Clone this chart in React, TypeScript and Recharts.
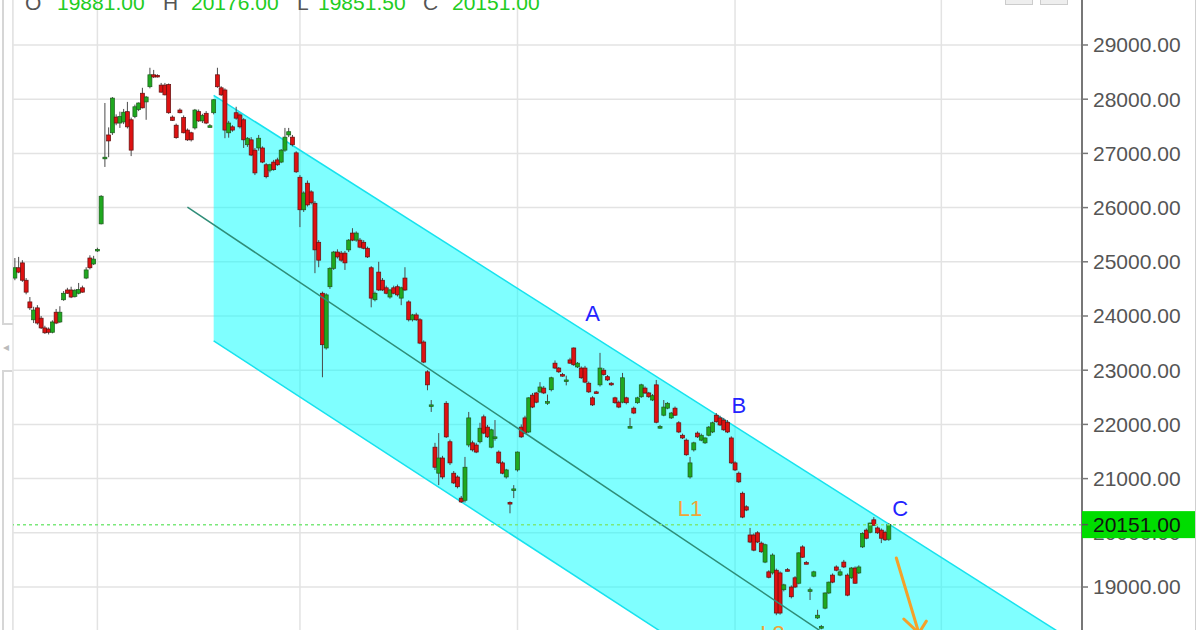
import React from 'react';
import {
  ComposedChart,
  Bar,
  Area,
  Line,
  XAxis,
  YAxis,
  CartesianGrid,
  ReferenceLine,
  ReferenceDot,
} from 'recharts';

// last session (header + price tag)
const lastBar = { open: 19881, high: 20176, low: 19851.5, close: 20151 };

// sessions as [open, high, low, close]
const legBase = [
  [24700, 25070, 24660, 24890], [24890, 25090, 24790, 24810], [24980, 25030, 24630, 24660],
  [24660, 24700, 24400, 24440], [24260, 24350, 24110, 24150], [23930, 24170, 23870, 24110],
  [24150, 24200, 23840, 23870], [23960, 24000, 23760, 23780], [23780, 23820, 23670, 23690],
  [23760, 23790, 23660, 23700], [23700, 23920, 23680, 23890], [24070, 24130, 23850, 23870],
  [23890, 24180, 23870, 24070], [24300, 24460, 24280, 24420], [24480, 24520, 24410, 24420],
  [24480, 24540, 24330, 24350], [24360, 24500, 24340, 24470], [24420, 24610, 24400, 24490],
  [24520, 24560, 24430, 24440], [24700, 24900, 24680, 24850], [25070, 25120, 24860, 24890],
  [24960, 25110, 24940, 25050], [25200, 25260, 25180, 25230],
];

const legTop = [
  [25700, 26230, 25690, 26210], [26900, 27930, 26750, 26930], [27340, 27480, 26930, 27230],
  [27380, 28040, 27340, 28020], [27670, 27720, 27520, 27560], [27560, 27770, 27470, 27680],
  [27580, 27820, 27540, 27760], [27770, 27950, 27460, 27490], [27620, 27660, 26950, 27060],
  [27680, 27900, 27650, 27860], [27810, 27940, 27780, 27930], [28110, 28210, 27830, 27840],
  [27950, 28060, 27620, 28040], [28230, 28580, 28200, 28450], [28450, 28540, 28390, 28410],
  [28440, 28460, 28400, 28410], [28260, 28300, 28120, 28130], [28260, 28300, 28070, 28080],
  [28270, 28290, 27730, 27750], [27670, 27700, 27600, 27610], [27520, 27550, 27270, 27290],
  [27800, 27830, 27740, 27750], [27660, 27700, 27370, 27380], [27430, 27460, 27230, 27250],
  [27380, 27400, 27220, 27250], [27470, 27820, 27440, 27800], [27770, 27810, 27580, 27600],
  [27600, 27730, 27560, 27700], [27740, 27780, 27540, 27560], [27500, 27540, 27480, 27510],
  [27750, 28000, 27720, 27990], [28450, 28580, 28210, 28230],
];

const legSlide = [
  [28210, 28240, 28060, 28080], [28170, 28200, 27280, 27430], [27380, 27600, 27290, 27560],
  [27490, 27520, 27400, 27430], [27750, 27860, 27620, 27650], [27710, 27740, 27460, 27490],
  [27620, 27650, 27100, 27250], [27160, 27300, 27120, 27280], [27250, 27300, 26950, 26970],
  [27060, 27100, 26600, 26640], [27100, 27340, 27050, 27280], [27100, 27130, 26820, 26840],
  [26790, 26820, 26540, 26570], [26690, 26810, 26650, 26790], [26840, 26880, 26680, 26700],
  [26880, 26920, 26770, 26790], [26840, 27080, 26820, 27060], [27060, 27470, 27030, 27300],
  [27340, 27470, 27300, 27400], [27300, 27340, 27130, 27160], [27010, 27040, 26640, 26660],
  [26560, 26600, 25640, 25960], [25960, 26300, 25920, 26270], [26450, 26500, 26020, 26050],
  [26290, 26320, 26060, 26090], [26080, 26120, 24790, 25220], [25360, 25400, 24900, 25030],
  [24420, 24450, 22870, 23470], [23410, 24420, 23380, 24390], [24540, 24900, 24500, 24880],
  [24880, 25200, 24850, 25180], [25180, 25230, 25060, 25090], [25160, 25200, 25000, 25030],
  [25160, 25200, 24850, 24980], [25220, 25420, 25180, 25400], [25530, 25620, 25380, 25400],
  [25400, 25560, 25370, 25530], [25400, 25440, 25250, 25270], [25360, 25400, 25230, 25250],
  [25250, 25280, 25070, 25090], [24890, 24920, 24160, 24330], [24300, 24450, 24270, 24420],
  [24810, 25000, 24460, 24480], [24660, 24700, 24460, 24480], [24520, 24560, 24400, 24420],
  [24350, 24500, 24320, 24480], [24520, 24560, 24400, 24420], [24540, 24580, 24360, 24390],
  [24330, 24540, 24200, 24520], [24700, 24900, 24460, 24480], [24260, 24290, 23900, 23930],
  [23930, 24040, 23900, 24020], [24020, 24060, 23910, 23930], [23930, 23960, 23480, 23500],
  [23520, 23550, 23130, 23150], [22970, 23000, 22630, 22730],
];

const legWaveL1 = [
  [22350, 22450, 22230, 22360], [21580, 21660, 21160, 21210], [21100, 21840, 20880, 21380],
  [21380, 21420, 20990, 21030], [22390, 22430, 21750, 21770], [21680, 21720, 21250, 21290],
  [21100, 21140, 20900, 20920], [21030, 21060, 20820, 20850], [20640, 20680, 20550, 20570],
  [20600, 21400, 20560, 21210], [21620, 22230, 21580, 22120], [21660, 21700, 21500, 21530],
  [21620, 21660, 21470, 21490], [21680, 22030, 21650, 21930], [22140, 22180, 21820, 21840],
  [21950, 21990, 21750, 21770], [21580, 21920, 21560, 21900], [21760, 22080, 21700, 21770],
  [21490, 21520, 21270, 21290], [21290, 21320, 21080, 21100], [21030, 21180, 21000, 21160],
  [20560, 20580, 20360, 20540], [20800, 20880, 20640, 20810], [21160, 21500, 21130, 21490],
];

const legWaveAB = [
  [21950, 22000, 21750, 21770], [22120, 22160, 21820, 21840], [21860, 22500, 21840, 22490],
  [22540, 22580, 22300, 22320], [22580, 22600, 22390, 22410], [22600, 22780, 22580, 22690],
  [22670, 22710, 22560, 22580], [22400, 22550, 22360, 22420], [22640, 22880, 22610, 22860],
  [23130, 23180, 23020, 23040], [23040, 23060, 22950, 22970], [22920, 22950, 22880, 22900],
  [22800, 22900, 22720, 22820], [23190, 23230, 23120, 23130], [23410, 23420, 23080, 23100],
  [23060, 23150, 23040, 23130], [23040, 23070, 22840, 22860], [23040, 23080, 22760, 22780],
  [22760, 22790, 22580, 22600], [22490, 22520, 22340, 22360], [22600, 22620, 22570, 22580],
  [22730, 23320, 22700, 23040], [23000, 23040, 22900, 22920], [22880, 22910, 22800, 22820],
  [22760, 22780, 22710, 22730], [22490, 22510, 22380, 22400], [22410, 22440, 22300, 22320],
  [22410, 22950, 22390, 22860], [22490, 22510, 22370, 22400], [21950, 22120, 21930, 21960],
  [22300, 22330, 22190, 22210], [22400, 22510, 22380, 22490], [22510, 22750, 22490, 22730],
  [22670, 22700, 22560, 22580], [22580, 22600, 22490, 22510], [22450, 22560, 22430, 22530],
  [22730, 22820, 22020, 22040], [21950, 21990, 21920, 21960], [22170, 22450, 22150, 22320],
  [22300, 22410, 22280, 22390], [22120, 22230, 22100, 22210], [22300, 22330, 22160, 22170],
  [22030, 22060, 21840, 21860], [21800, 21830, 21730, 21750], [21710, 21740, 21420, 21440],
  [21030, 21400, 21000, 21290], [21530, 21680, 21500, 21660], [21840, 21870, 21750, 21770],
  [21710, 21830, 21690, 21800], [21660, 21760, 21640, 21750], [21800, 21970, 21780, 21950],
  [21860, 22050, 21840, 22030], [22170, 22210, 22030, 22050], [22120, 22160, 21970, 21990],
  [22080, 22120, 21880, 21900], [22040, 22080, 21840, 21860], [21750, 21780, 21270, 21290],
  [21290, 21320, 21140, 21160], [21100, 21130, 20920, 20940], [20730, 20760, 20270, 20290],
  [20480, 20510, 20400, 20420],
];

const legWaveC = [
  [19960, 20090, 19810, 19830], [19960, 19990, 19660, 19680], [20000, 20030, 19810, 19830],
  [19810, 19840, 19630, 19650], [19460, 19800, 19440, 19780], [19280, 19310, 19160, 19180],
  [19260, 19620, 19230, 19590], [19310, 19340, 18480, 18520], [19260, 19290, 18490, 18520],
  [18950, 19060, 18920, 19040], [19320, 19350, 19290, 19310], [19000, 19030, 18790, 18820],
  [19170, 19200, 18980, 19000], [19070, 19640, 19050, 19630], [19740, 19770, 19540, 19550],
  [19450, 19480, 19420, 19430], [18930, 18990, 18760, 18950], [19200, 19300, 19180, 19280],
  [18430, 18580, 18410, 18480], [18250, 18300, 18220, 18270], [18610, 18900, 18590, 18890],
  [18890, 19100, 18870, 19090], [19220, 19250, 19070, 19090], [19370, 19400, 19290, 19310],
  [19220, 19330, 19200, 19280], [19460, 19500, 19350, 19370], [19220, 19250, 18830, 18850],
  [19170, 19370, 19150, 19350], [19350, 19380, 19060, 19070], [19260, 19400, 19240, 19370],
  [19740, 20010, 19720, 19990], [20050, 20080, 19880, 19900], [20010, 20190, 19990, 20180],
  [20240, 20290, 20130, 20140], [20090, 20120, 19980, 20000], [20050, 20080, 19810, 19900],
  [20010, 20040, 19850, 19870],
  [lastBar.open, lastBar.high, lastBar.low, lastBar.close],
];

const sessions = [...legBase, ...legTop, ...legSlide, ...legWaveL1, ...legWaveAB, ...legWaveC];
const totalSlots = 285; // sessions + empty space to the right

const priceTicks = [19000, 20000, 21000, 22000, 23000, 24000, 25000, 26000, 27000, 28000, 29000];
const priceDomain = [18207, 29830];
const monthStartSlots = [22, 76, 134, 192, 247];

// regression channel + trend line (two anchor points each)
const channelSlots = [53, 284];
const channelUpper = [28070, 17920];
const channelLower = [23540, 13150];
const trendSlots = [46, 284];
const trendValues = [26010, 14980];

const markers = [
  { slot: 154, price: 24060, text: 'A', color: '#2323ff' },
  { slot: 193, price: 22360, text: 'B', color: '#2323ff' },
  { slot: 236, price: 20450, text: 'C', color: '#2323ff' },
  { slot: 180, price: 20450, text: 'L1', color: '#f0a437' },
  { slot: 202, price: 18150, text: 'L2', color: '#f0a437' },
];

const arrowShaft = [{ x: 235, y: 19535 }, { x: 241, y: 18150 }];
const arrowLeft = [{ x: 237, y: 18410 }, { x: 241, y: 18150 }];
const arrowRight = [{ x: 243, y: 18370 }, { x: 241, y: 18150 }];

const rows = Array.from({ length: totalSlots }, (_, slot) => {
  const row: any = { slot };
  const s = sessions[slot];
  if (s) {
    row.open = s[0];
    row.high = s[1];
    row.low = s[2];
    row.close = s[3];
  }
  const ci = channelSlots.indexOf(slot);
  if (ci >= 0) {
    row.upper = channelUpper[ci];
    row.lower = channelLower[ci];
  }
  const ti = trendSlots.indexOf(slot);
  if (ti >= 0) row.trend = trendValues[ti];
  return row;
});

function Candle(props: any) {
  const { x, y, width, height, payload } = props;
  if (!payload || payload.high == null || height == null || isNaN(height)) return null;
  const { open, high, low, close } = payload;
  const k = height / (high - low);
  const cx = x + width / 2;
  const yo = y + (high - open) * k;
  const yc = y + (high - close) * k;
  const up = close >= open;
  const top = Math.min(yo, yc);
  const h = Math.max(Math.abs(yc - yo), 1.6);
  return (
    <g>
      <line x1={cx} x2={cx} y1={y} y2={y + height} stroke="#4a4a4a" strokeWidth={1} />
      <rect
        x={cx - 2}
        y={top}
        width={4}
        height={h}
        fill={up ? '#1fa81f' : '#dd1111'}
        stroke={up ? '#1d5a1d' : '#5e1010'}
        strokeWidth={0.7}
      />
    </g>
  );
}

// y-axis labels; the last close gets the green price tag drawn over the regular labels
function PriceTick(props: any) {
  const { x, y, payload } = props;
  const v = payload.value;
  if (v === lastBar.close) {
    return (
      <g>
        <rect x={x - 11} y={y - 13.5} width={113} height={27} fill="#00dd00" />
        <line x1={x - 11} x2={x - 5} y1={y} y2={y} stroke="#555" strokeWidth={1.5} />
        <text x={x} y={y} dy="0.355em" fontSize={21} fill="#111">
          {v.toFixed(2)}
        </text>
      </g>
    );
  }
  return (
    <text x={x} y={y} dy="0.355em" fontSize={21} fill="#555">
      {v.toFixed(2)}
    </text>
  );
}

const green = '#22cc22';
const letter = '#555';

export default function App() {
  return (
    <div
      style={{
        position: 'absolute',
        left: 0,
        top: 0,
        width: 1200,
        height: 630,
        background: '#fff',
        overflow: 'hidden',
        fontFamily: '"Liberation Sans", Arial, sans-serif',
      }}
    >
      <ComposedChart width={1200} height={630} data={rows} margin={{ top: 0, right: 0, bottom: 0, left: 13 }}>
        <CartesianGrid stroke="#e3e3e3" strokeWidth={1.5} horizontalValues={priceTicks} />
        <XAxis dataKey="slot" type="category" hide ticks={monthStartSlots} interval={0} />
        <YAxis
          orientation="right"
          width={118}
          domain={priceDomain}
          allowDataOverflow
          ticks={[...priceTicks, lastBar.close]}
          interval={0}
          tick={(p: any) => <PriceTick {...p} />}
          tickSize={6}
          tickMargin={5}
          axisLine={{ stroke: '#777', strokeWidth: 2 }}
          tickLine={{ stroke: '#777', strokeWidth: 1.5 }}
        />
        <Area
          dataKey={(d: any) => (d.upper == null ? null : [d.lower, d.upper])}
          type="linear"
          connectNulls
          stroke="#17e2ee"
          strokeWidth={1.5}
          fill="#00ffff"
          fillOpacity={0.5}
          dot={false}
          activeDot={false}
          isAnimationActive={false}
        />
        <Line
          dataKey="trend"
          type="linear"
          connectNulls
          stroke="#2f8d78"
          strokeWidth={1.5}
          dot={false}
          activeDot={false}
          isAnimationActive={false}
        />
        <ReferenceLine y={lastBar.close} stroke="#7be87b" strokeDasharray="3 3" strokeWidth={1.5} />
        <Bar
          dataKey={(d: any) => (d.high == null ? null : [d.low, d.high])}
          shape={(p: any) => <Candle {...p} />}
          isAnimationActive={false}
        />
        {markers.map((m) => (
          <ReferenceDot
            key={m.text}
            x={m.slot}
            y={m.price}
            r={0}
            fill="none"
            stroke="none"
            ifOverflow="visible"
            label={{ value: m.text, position: 'center', fill: m.color, fontSize: 22 }}
          />
        ))}
        {[arrowShaft, arrowLeft, arrowRight].map((seg, i) => (
          <ReferenceLine
            key={i}
            segment={seg}
            stroke="#f5a12a"
            strokeWidth={3}
            strokeLinecap="round"
            ifOverflow="visible"
          />
        ))}
      </ComposedChart>

      <svg width={1200} height={24} style={{ position: 'absolute', left: 0, top: 0 }}>
        <text y={9.5} fontSize={21}>
          <tspan x={25} fill={letter}>O</tspan>
          <tspan x={57} fill={green}>{lastBar.open.toFixed(2)}</tspan>
          <tspan x={163} fill={letter}>H</tspan>
          <tspan x={191} fill={green}>{lastBar.high.toFixed(2)}</tspan>
          <tspan x={297} fill={letter}>L</tspan>
          <tspan x={318} fill={green}>{lastBar.low.toFixed(2)}</tspan>
          <tspan x={423} fill={letter}>C</tspan>
          <tspan x={452} fill={green}>{lastBar.close.toFixed(2)}</tspan>
        </text>
      </svg>

      {/* panel chrome */}
      <div style={{ position: 'absolute', left: 2, top: 0, width: 2, height: 325, background: '#d6d6d6' }} />
      <div style={{ position: 'absolute', left: 12, top: 0, width: 1, height: 325, background: '#e4e4e4' }} />
      <div style={{ position: 'absolute', left: 2, top: 323, width: 11, height: 2, background: '#d6d6d6' }} />
      <div style={{ position: 'absolute', left: 3, top: 340, fontSize: 12, color: '#bbb' }}>◂</div>
      <div style={{ position: 'absolute', left: 2, top: 370, width: 11, height: 2, background: '#d6d6d6' }} />
      <div style={{ position: 'absolute', left: 2, top: 370, width: 2, height: 260, background: '#d6d6d6' }} />
      <div style={{ position: 'absolute', left: 12, top: 370, width: 1, height: 260, background: '#e4e4e4' }} />
      <div style={{ position: 'absolute', left: 1195, top: 0, width: 1, height: 630, background: '#cfcfcf' }} />
      <div style={{ position: 'absolute', left: 1005, top: -2, width: 26, height: 5, background: '#eee', border: '1px solid #ccc' }} />
      <div style={{ position: 'absolute', left: 1040, top: -2, width: 26, height: 5, background: '#eee', border: '1px solid #ccc' }} />
    </div>
  );
}
